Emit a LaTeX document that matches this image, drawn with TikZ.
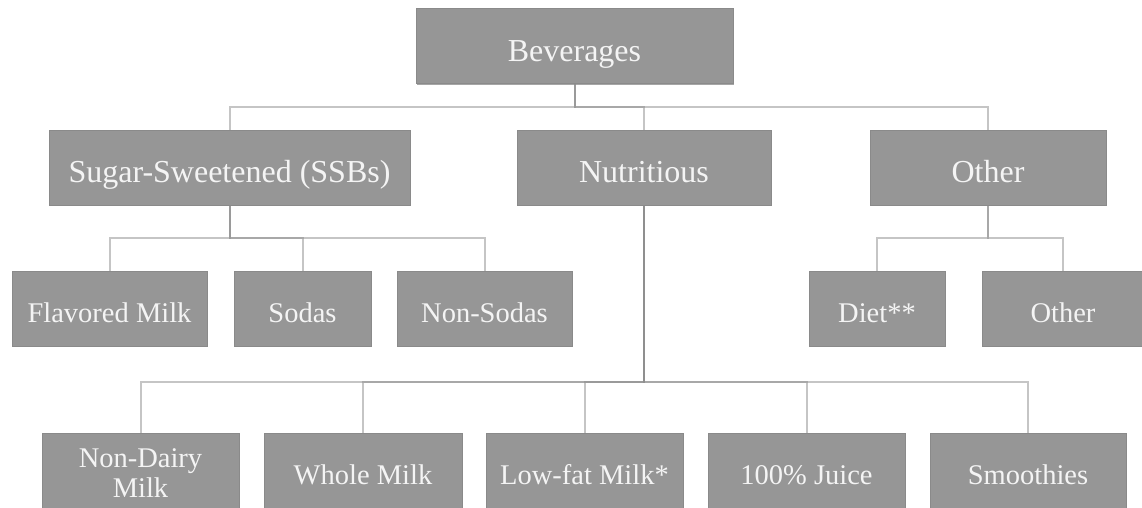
\documentclass[tikz,border=0pt]{standalone}
\usepackage{fontspec}
\setmainfont{Liberation Serif}
\usetikzlibrary{shadows}
\definecolor{boxfill}{HTML}{969696}
\definecolor{boxline}{HTML}{8A8A8A}
\definecolor{txt}{HTML}{F4F4F4}
\definecolor{conncol}{HTML}{8C8C8C}
\tikzset{
  x=1pt, y=-1pt,
  box/.style={draw=boxline, line width=0.8pt, fill=boxfill, text=txt,
    minimum height=75pt, inner sep=0pt, align=center,
    drop shadow={shadow xshift=1.2pt, shadow yshift=-1.2pt, opacity=0.35, fill=black}},
  big/.style={box, font=\fontsize{32}{36}\selectfont, text height=30pt, text depth=0pt},
  small/.style={box, font=\fontsize{28.5}{30}\selectfont, text height=27.5pt, text depth=0pt},
  twoline/.style={small, text height=53pt, text depth=0pt},
  conn/.style={draw=conncol, line width=2pt, opacity=0.5}
}
\begin{document}
\begin{tikzpicture}
\useasboundingbox (0,0) rectangle (1142,507);
% top
\node[big, minimum width=317pt] (bev) at (574.5,46) {Beverages};
% level 2
\node[big, minimum width=361pt] (ssb) at (229.5,167.5) {Sugar-Sweetened (SSBs)};
\node[big, minimum width=254pt] (nut) at (644,167.5) {Nutritious};
\node[big, minimum width=236pt] (oth) at (988,167.5) {Other};
% level 3
\node[small, minimum width=195pt] (fm) at (109.5,308.5) {Flavored Milk};
\node[small, minimum width=137pt] (sod) at (302.5,308.5) {Sodas};
\node[small, minimum width=175pt] (nsod) at (484.5,308.5) {Non-Sodas};
\node[small, minimum width=136pt] (diet) at (877,308.5) {Diet**};
\node[small, minimum width=162pt] (oth2) at (1063,308.5) {Other};
% level 4
\node[twoline, minimum width=197pt] (nd) at (140.5,470.5) {Non-Dairy\\Milk};
\node[small, minimum width=198pt] (wm) at (363,470.5) {Whole Milk};
\node[small, minimum width=197pt] (lf) at (584.5,470.5) {Low-fat Milk*};
\node[small, minimum width=197pt] (ju) at (806.5,470.5) {100\% Juice};
\node[small, minimum width=196pt] (sm) at (1028,470.5) {Smoothies};
% mid levels
\coordinate (m1) at (0,107);
\coordinate (m2) at (0,238);
\coordinate (m3) at (0,382);
% connectors
\foreach \c in {ssb,nut,oth}
  \draw[conn] (bev.south) |- (\c.north |- m1) -- (\c.north);
\foreach \c in {fm,sod,nsod}
  \draw[conn] (ssb.south) |- (\c.north |- m2) -- (\c.north);
\foreach \c in {diet,oth2}
  \draw[conn] (oth.south) |- (\c.north |- m2) -- (\c.north);
\foreach \c in {nd,wm,lf,ju,sm}
  \draw[conn] (nut.south) |- (\c.north |- m3) -- (\c.north);
\end{tikzpicture}
\end{document}
